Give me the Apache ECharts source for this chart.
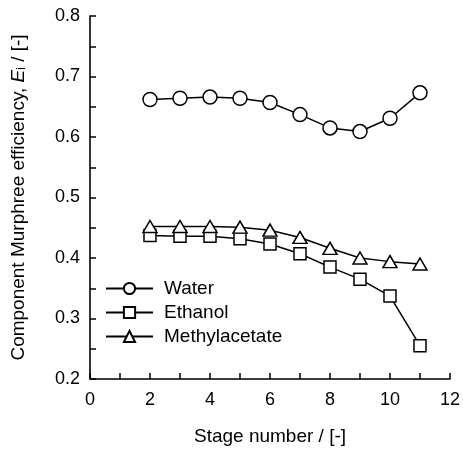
<!DOCTYPE html>
<html>
<head>
<meta charset="utf-8">
<script src="https://cdn.jsdelivr.net/npm/echarts@6/dist/echarts.min.js"></script>
<style>
  html, body { margin: 0; padding: 0; background: #fff; }
  #chart { width: 463px; height: 453px; }
</style>
</head>
<body>
<div id="chart"></div>
<script>
// stage numbers
const stages = [2, 3, 4, 5, 6, 7, 8, 9, 10, 11]
// Murphree efficiency per component
const water = [0.662, 0.664, 0.666, 0.664, 0.657, 0.637, 0.615, 0.609, 0.631, 0.673]
const ethanol = [0.437, 0.436, 0.436, 0.432, 0.423, 0.407, 0.385, 0.365, 0.337, 0.255]
const methylacetate = [0.452, 0.452, 0.452, 0.451, 0.446, 0.434, 0.416, 0.400, 0.394, 0.390]

const font = 'Liberation Sans, Arial, Helvetica, sans-serif'

const chart = echarts.init(document.getElementById('chart'))

function makeSeries (name, values, symbol, size) {
  return {
    name: name,
    type: 'line',
    data: stages.map((s, i) => [s, values[i]]),
    symbol: symbol,
    symbolSize: size,
    showAllSymbol: true,
    lineStyle: { color: '#000', width: 1.5 },
    itemStyle: { color: '#fff', borderColor: '#000', borderWidth: 1.5 },
    emphasis: { disabled: true },
    z: 3
  }
}

const axisCommon = {
  axisLine: { show: true, lineStyle: { color: '#000', width: 1.6 } },
  axisTick: { show: true, inside: true, length: 6, lineStyle: { color: '#000', width: 1.5 } },
  minorTick: { show: true, splitNumber: 2, length: 6, lineStyle: { color: '#000', width: 1.5 } },
  splitLine: { show: false },
  axisLabel: { color: '#000', fontSize: 18, fontFamily: font }
}

chart.setOption({
  animation: false,
  backgroundColor: '#fff',
  grid: { left: 90, right: 10, top: 16, bottom: 74 },
  legend: {
    orient: 'vertical',
    left: 100,
    top: 274,
    itemWidth: 47,
    itemHeight: 14,
    itemGap: 5,
    textStyle: { color: '#000', fontSize: 19, fontFamily: font, padding: [0, 0, 0, 6] },
    data: ['Water', 'Ethanol', 'Methylacetate']
  },
  xAxis: Object.assign({}, axisCommon, {
    type: 'value',
    min: 0,
    max: 12,
    interval: 2,
    name: 'Stage number / [-]',
    nameLocation: 'middle',
    nameGap: 48,
    nameTextStyle: { color: '#000', fontSize: 19, fontFamily: font },
    axisLabel: Object.assign({}, axisCommon.axisLabel, { margin: 12 })
  }),
  yAxis: Object.assign({}, axisCommon, {
    type: 'value',
    min: 0.2,
    max: 0.8,
    interval: 0.1,
    name: '{t|Component Murphree efficiency, }{e|E}{s|i}{t| / [-]}',
    nameLocation: 'middle',
    nameGap: 62,
    nameTextStyle: {
      color: '#000',
      fontSize: 19,
      fontFamily: font,
      rich: {
        t: { fontSize: 19, fontFamily: font, color: '#000' },
        e: { fontSize: 19, fontFamily: font, fontStyle: 'italic', color: '#000' },
        s: { fontSize: 12, fontFamily: font, color: '#000', verticalAlign: 'bottom', padding: [7, 0, 0, 0] }
      }
    },
    axisLabel: Object.assign({}, axisCommon.axisLabel, {
      margin: 10,
      formatter: v => v.toFixed(1)
    })
  }),
  series: [
    makeSeries('Water', water, 'circle', 14),
    makeSeries('Ethanol', ethanol, 'rect', 12),
    makeSeries('Methylacetate', methylacetate, 'triangle', [14, 12])
  ]
})
</script>
</body>
</html>
